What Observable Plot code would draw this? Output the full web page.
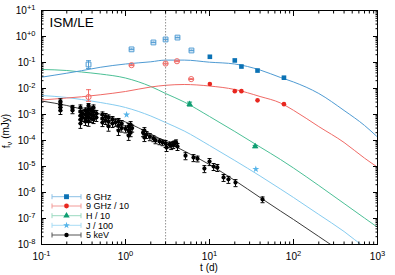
<!DOCTYPE html>
<html><head><meta charset="utf-8">
<script src="https://cdn.jsdelivr.net/npm/d3@7"></script>
<script src="https://cdn.jsdelivr.net/npm/@observablehq/plot@0.6"></script>
<style>html,body{margin:0;padding:0;background:#fff;} svg{display:block;}</style>
</head><body><div id="chart"></div>
<script>
// ---------- data ----------
const xMajor = [0.1, 1, 10, 100, 1000];
const xTickLabels = ["10^-1", "10^0", "10^1", "10^2", "10^3"];
const yMajor = [1e-8, 1e-7, 1e-6, 1e-5, 1e-4, 1e-3, 1e-2, 1e-1, 1, 10];
const yTickLabels = ["10^-8", "10^-7", "10^-6", "10^-5", "10^-4", "10^-3", "10^-2", "10^-1", "10^+0", "10^+1"];

const legendLabels = ["6 GHz", "9 GHz / 10", "H / 10", "J / 100", "5 keV"];

// 6 GHz (open = early epochs, filled = later)
const ghz6OpenT = [0.363, 1.18, 2.15, 3.0, 4.16, 6.1];
const ghz6OpenF = [0.084, 0.32, 0.59, 0.77, 0.91, 0.29];
const ghz6OpenLo = [0.059, 0.31, 0.575, 0.75, 0.885, 0.282];
const ghz6OpenHi = [0.117, 0.33, 0.605, 0.79, 0.935, 0.298];
const ghz6T = [10.1, 20, 24, 37.3, 77];
const ghz6F = [0.166, 0.12, 0.070, 0.049, 0.026];

// 9 GHz / 10
const ghz9OpenT = [0.363, 1.18, 3.0, 4.1, 6.05];
const ghz9OpenF = [0.0047, 0.079, 0.091, 0.112, 0.023];
const ghz9OpenLo = [0.0032, 0.076, 0.088, 0.108, 0.0222];
const ghz9OpenHi = [0.0090, 0.082, 0.094, 0.116, 0.0238];
const ghz9T = [10.1, 20, 24, 37.3, 77];
const ghz9F = [0.0148, 0.0079, 0.0079, 0.0035, 0.0025];

// H / 10
const hT = [5.8, 35];
const hF = [0.0025, 5.9e-5];
const hLo = [0.0021, 5.3e-5];
const hHi = [0.0030, 6.5e-5];

// J / 100
const jT = [1.03, 35.6];
const jF = [9.8e-4, 7.9e-6];

// 5 keV
const xrayT = [0.168,0.168,0.168,0.168,0.234,0.234,0.291,0.291,0.291,0.291,0.291,0.334,0.334,0.334,0.334,
  0.363,0.363,0.363,0.363,0.363,0.416,0.416,0.416,0.416,0.532,0.532,0.532,0.628,0.628,0.628,
  0.826,0.826,0.826,1.09,1.09,1.09,1.15,1.15,1.68,1.78,1.68,2.15,2.28,2.54,2.76,3.0,3.08,3.34,3.83,4.16,4.0,
  5.18,6.45,7.2,8.7,10,11.2,12.4,14.7,16.8,20.4,42.8,
  0.31,0.31,0.35,0.35,0.39,0.39,0.39,0.45,0.45,0.58,0.58,0.7,0.7,0.76,0.9,0.9,1.0,1.2,1.62,1.95,3.5,3.7];
const xrayF = [3.2e-3,2.4e-3,1.86e-3,1.43e-3,1.86e-3,1.43e-3,1.86e-3,1.3e-3,9.1e-4,6.4e-4,4.5e-4,1.43e-3,1.0e-3,7.0e-4,5.4e-4,
  2.2e-3,1.55e-3,1.09e-3,7.7e-4,5.4e-4,1.86e-3,1.3e-3,9.1e-4,6.4e-4,1.0e-3,7.0e-4,4.9e-4,7.7e-4,5.4e-4,3.5e-4,
  5.4e-4,3.8e-4,2.4e-4,3.5e-4,2.4e-4,1.55e-4,4.1e-4,2.0e-4,2.4e-4,1.7e-4,1.3e-4,1.2e-4,1.0e-4,9.2e-5,8.4e-5,7.7e-5,5.4e-5,7.0e-5,7.7e-5,5.9e-5,8.4e-5,
  2.6e-5,2.2e-5,2.0e-5,8.3e-6,1.55e-5,1.0e-5,9.2e-6,3.8e-6,3.2e-6,2.4e-6,5.4e-7,
  1.1e-3,7.7e-4,1.2e-3,8.4e-4,1.55e-3,1.0e-3,7.0e-4,1.1e-3,7.7e-4,8.4e-4,5.9e-4,6.4e-4,4.5e-4,5.0e-4,4.5e-4,3.0e-4,2.8e-4,3.0e-4,2.0e-4,1.4e-4,6.4e-5,7.0e-5];
const xrayErr = [0.25,0.2,0.25,0.3,0.2,0.25,0.25,0.3,0.3,0.3,0.35,0.25,0.3,0.3,0.3,
  0.2,0.25,0.3,0.3,0.35,0.25,0.25,0.3,0.3,0.25,0.3,0.3,0.25,0.3,0.35,
  0.3,0.3,0.35,0.3,0.3,0.35,0.3,0.3,0.3,0.3,0.3,0.25,0.25,0.25,0.25,0.3,0.3,0.25,0.25,0.3,0.25,
  0.3,0.3,0.25,0.3,0.3,0.3,0.3,0.3,0.3,0.3,0.25,
  0.3,0.3,0.3,0.3,0.25,0.3,0.3,0.3,0.3,0.3,0.3,0.3,0.3,0.3,0.3,0.3,0.3,0.3,0.3,0.3,0.3,0.3];

// model curves
const modelT = [0.1, 0.2, 0.3, 0.5, 1, 2, 3, 5, 10, 20, 40, 70, 100, 200, 400, 700, 1000];
const model6 = [0.0272,0.0388,0.0484,0.0653,0.0875,0.1064,0.1236,0.1236,0.1028,0.0875,0.0515,0.0265,0.0178,0.00643,0.00143,3.8e-4,1.36e-4];
const model9 = [0.00361,0.00431,0.0048,0.00573,0.00767,0.01143,0.01327,0.01426,0.01247,0.00916,0.00492,0.00277,0.00145,3.43e-4,8.4e-5,2.1e-5,9.4e-6];
const modelH = [0.0538,0.0492,0.0431,0.0361,0.0253,0.01194,0.00643,0.00303,8.38e-4,2.22e-4,5.62e-5,1.86e-5,8.75e-6,1.86e-6,3.78e-7,1.04e-7,4.62e-8];
const modelJ = [0.00538,0.00451,0.00378,0.0029,0.00186,8.75e-4,4.92e-4,2.32e-4,6.43e-5,1.70e-5,4.32e-6,1.36e-6,6.43e-7,1.43e-7,3.16e-8,7.9e-9,3.6e-9];
const modelX = [3.3e-3,2.22e-3,1.63e-3,1.04e-3,5.15e-4,1.78e-4,9.16e-5,3.95e-5,1.19e-5,2.9e-6,6.43e-7,1.94e-7,9.16e-8,2.03e-8,4.7e-9,1.8e-9,9e-10];

const tBreak = [3];

// ---------- colours ----------
const C = {
  b: "#0b72b5", bLine: "#4f9bd3", bErr: "#8cc0e6",
  r: "#e8271f", rLine: "#f06a66", rErr: "#f29a97",
  g: "#0f9e72", gLine: "#4cc096", gErr: "#9bd9c0",
  j: "#56b4e9", jLine: "#86ccf0", jErr: "#a8dcf5",
  k: "#000000", kLine: "#3a3a3a", kErr: "#555555"
};

// ---------- helpers ----------
const rows = (ts, fs, lo, hi) => ts.map((t, i) => ({t, f: fs[i], lo: lo ? lo[i] : null, hi: hi ? hi[i] : null}));
const cap = {draw(ctx) { ctx.moveTo(-2.5, 0); ctx.lineTo(2.5, 0); }};
const capS = {draw(ctx) { ctx.moveTo(-2, 0); ctx.lineTo(2, 0); }};
const curve = (vals, color) => Plot.line(modelT.map((t, i) => ({t, f: vals[i]})),
  {x: "t", y: "f", stroke: color, strokeWidth: 1, curve: "monotone-x", clip: true});
const errMarks = (data, color, c) => [
  Plot.ruleX(data, {x: "t", y1: "lo", y2: "hi", stroke: color, strokeWidth: 1}),
  Plot.dot(data, {x: "t", y: "lo", symbol: c || cap, stroke: color, fill: "none", strokeWidth: 1}),
  Plot.dot(data, {x: "t", y: "hi", symbol: c || cap, stroke: color, fill: "none", strokeWidth: 1})
];

const d6o = rows(ghz6OpenT, ghz6OpenF, ghz6OpenLo, ghz6OpenHi);
const d6 = rows(ghz6T, ghz6F);
const d9o = rows(ghz9OpenT, ghz9OpenF, ghz9OpenLo, ghz9OpenHi);
const d9 = rows(ghz9T, ghz9F);
const dH = rows(hT, hF, hLo, hHi);
const dJ = rows(jT, jF);
const dX = xrayT.map((t, i) => ({t, f: xrayF[i], lo: xrayF[i] * (1 - xrayErr[i]), hi: xrayF[i] * (1 + xrayErr[i])}));

// minor ticks
const xMinor = d3.scaleLog().domain([0.1, 1000]).ticks().filter(v => !xMajor.some(m => Math.abs(m - v) / m < 1e-9));
const yMinor = d3.scaleLog().domain([1e-8, 10]).ticks().filter(v => !yMajor.some(m => Math.abs(m - v) / m < 1e-9));

const xfmt = d => xTickLabels[xMajor.findIndex(m => Math.abs(m - d) / m < 1e-9)];
const yfmt = d => yTickLabels[yMajor.findIndex(m => Math.abs(m - d) / m < 1e-9)];

const plot = Plot.plot({
  width: 395, height: 275,
  marginLeft: 41, marginRight: 18, marginTop: 10, marginBottom: 31,
  style: {fontFamily: "'Liberation Sans', Arial, sans-serif", fontSize: "10px", background: "#fff", color: "#000", overflow: "visible"},
  x: {type: "log", domain: [0.1, 1000]},
  y: {type: "log", domain: [1e-8, 10]},
  marks: [
    // model curves
    curve(modelH, C.gLine),
    curve(modelJ, C.jLine),
    curve(model9, C.rLine),
    curve(model6, C.bLine),
    curve(modelX, C.kLine),
    // vertical marker
    Plot.ruleX(tBreak, {stroke: "#777", strokeWidth: 0.8, strokeDasharray: "1.5,1.5"}),
    // 5 keV
    ...errMarks(dX, C.k, capS),
    Plot.dot(dX, {x: "t", y: "f", r: 2.1, fill: C.k}),
    // J
    Plot.dot(dJ, {x: "t", y: "f", symbol: "star", r: 2.2, fill: C.j}),
    // H
    ...errMarks(dH, C.g),
    Plot.dot(dH, {x: "t", y: "f", symbol: "triangle", r: 2.4, fill: C.g}),
    // 9 GHz
    ...errMarks(d9o, C.rLine),
    Plot.dot(d9o, {x: "t", y: "f", r: 2.6, fill: "none", stroke: C.rLine, strokeWidth: 1}),
    Plot.dot(d9, {x: "t", y: "f", r: 2.3, fill: C.r}),
    // 6 GHz
    ...errMarks(d6o, C.bLine),
    Plot.dot(d6o, {x: "t", y: "f", symbol: "square", r: 2.7, fill: "none", stroke: C.bLine, strokeWidth: 1}),
    Plot.dot(d6, {x: "t", y: "f", symbol: "square", r: 2.6, fill: C.b}),
    // label
    Plot.text(["ISM/LE"], {text: d => d, frameAnchor: "top-left", dx: 8, dy: 6.5, lineAnchor: "top", textAnchor: "start", fontSize: 13.5}),
    // axes: inward ticks
    Plot.axisX(xMajor, {anchor: "bottom", tickSize: 5, dy: -5, fill: "none", label: null}),
    Plot.axisX(xMinor, {anchor: "bottom", tickSize: 2.5, dy: -2.5, fill: "none", label: null}),
    Plot.axisX(xMajor, {anchor: "top", tickSize: 5, dy: 5, fill: "none", label: null}),
    Plot.axisX(xMinor, {anchor: "top", tickSize: 2.5, dy: 2.5, fill: "none", label: null}),
    Plot.axisY(yMajor, {anchor: "left", tickSize: 5, dx: 5, fill: "none", label: null}),
    Plot.axisY(yMinor, {anchor: "left", tickSize: 2.5, dx: 2.5, fill: "none", label: null}),
    Plot.axisY(yMajor, {anchor: "right", tickSize: 5, dx: -5, fill: "none", label: null}),
    Plot.axisY(yMinor, {anchor: "right", tickSize: 2.5, dx: -2.5, fill: "none", label: null}),
    // tick labels
    Plot.axisX(xMajor, {anchor: "bottom", tickSize: 0, tickPadding: 8, tickFormat: xfmt, label: null, fontSize: 10}),
    Plot.axisY(yMajor, {anchor: "left", tickSize: 0, tickPadding: 6, tickFormat: yfmt, label: null, fontSize: 10}),
    Plot.frame({stroke: "#000", strokeWidth: 1})
  ]
});

document.getElementById("chart").appendChild(plot);

// superscripts in tick labels
const svg = d3.select(plot);
svg.selectAll('g[aria-label="x-axis tick label"] text, g[aria-label="y-axis tick label"] text').each(function () {
  const s = this.textContent;
  const parts = s.split("^");
  if (parts.length < 2) return;
  this.textContent = "";
  const t = d3.select(this);
  t.append("tspan").text(parts[0]);
  t.append("tspan").attr("dy", "-0.45em").attr("font-size", "7.5px").text(parts[1]);
});

// axis titles
const font = "'Liberation Sans', Arial, sans-serif";
svg.append("text").attr("x", 209).attr("y", 271).attr("text-anchor", "middle")
  .attr("font-family", font).attr("font-size", 10).text("t (d)");
const yl = svg.append("text").attr("transform", "translate(10,131) rotate(-90)").attr("text-anchor", "middle")
  .attr("font-family", font).attr("font-size", 10);
yl.append("tspan").text("f");
yl.append("tspan").attr("dy", "0.3em").attr("font-size", "7.5px").text("\u03bd");
yl.append("tspan").attr("dy", "-0.3em").text(" (mJy)");

// legend
const legendRowY = [196.7, 206, 215.7, 225.3, 235];
const legendSym = [
  {type: d3.symbolSquare, size: 24, fill: C.b, err: C.bErr},
  {type: d3.symbolCircle, size: 18, fill: C.r, err: C.rErr},
  {type: d3.symbolTriangle, size: 18, fill: C.g, err: C.gErr},
  {type: d3.symbolStar, size: 14, fill: C.j, err: C.jErr},
  {type: d3.symbolCircle, size: 15, fill: C.k, err: C.kErr}
];
const lg = svg.append("g").attr("font-family", font).attr("font-size", 9).attr("text-anchor", "start");
legendLabels.forEach((lab, i) => {
  const y = legendRowY[i], s = legendSym[i];
  lg.append("line").attr("x1", 52).attr("x2", 81).attr("y1", y).attr("y2", y).attr("stroke", s.err).attr("stroke-width", 1);
  lg.append("line").attr("x1", 52).attr("x2", 52).attr("y1", y - 2.5).attr("y2", y + 2.5).attr("stroke", s.err);
  lg.append("line").attr("x1", 81).attr("x2", 81).attr("y1", y - 2.5).attr("y2", y + 2.5).attr("stroke", s.err);
  lg.append("path").attr("transform", `translate(66.5,${y})`).attr("d", d3.symbol(s.type, s.size)()).attr("fill", s.fill);
  lg.append("text").attr("x", 86).attr("y", y + 3.2).attr("text-anchor", "start").text(lab);
});
</script>
</body></html>
